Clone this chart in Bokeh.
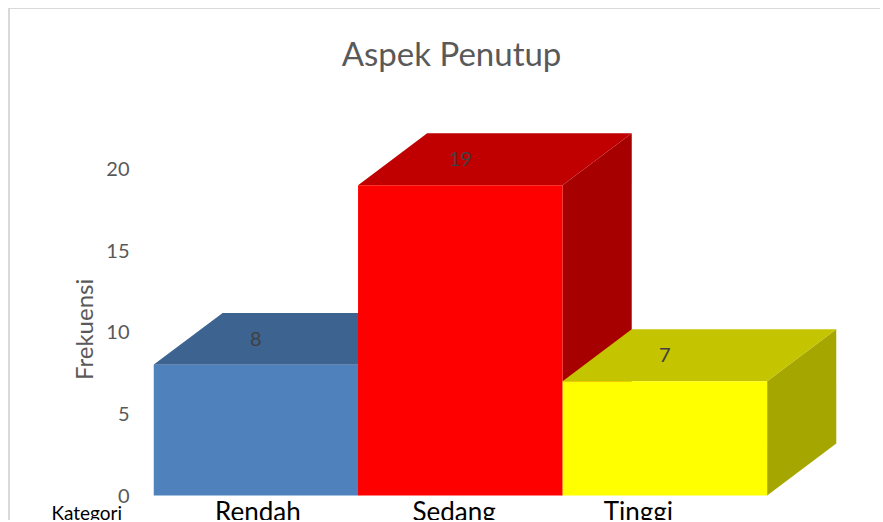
from bokeh.plotting import figure
from bokeh.models import Range1d, FixedTicker, Label, ColumnDataSource
from bokeh.core.properties import value
from bokeh.embed import file_html
from bokeh.resources import INLINE
import math

# ---- data ----
title_text = "Aspek Penutup"
categories = ["Rendah", "Sedang", "Tinggi"]
values = [8, 19, 7]
front_colors = ["#4f81bd", "#ff0000", "#ffff00"]
top_colors = ["#3d6391", "#c00000", "#c4c400"]
side_colors = ["#2f4d73", "#a60000", "#a6a600"]
y_ticks = [0, 5, 10, 15, 20]
y_label = "Frekuensi"
x_label = "Kategori"

# ---- layout constants ----
FONT = "Lato"
DX = 0.338   # depth offset in x units
DY = 3.18    # depth offset in y units
cat_label_x = [0.51, 1.47, 2.37]
cat_label_y = -0.92

p = figure(width=872, height=512, output_backend="svg", toolbar_location=None,
           x_range=Range1d(0, 3.52), y_range=Range1d(-1.59, 24),
           x_axis_location=None, title=None,
           min_border_left=143, min_border_right=9,
           min_border_top=94, min_border_bottom=0)
p.styles = {"margin-left": "8px", "margin-top": "8px",
            "border-left": "2px solid #d9d9d9", "border-top": "1px solid #d9d9d9"}
p.grid.visible = False
p.outline_line_color = None
p.background_fill_color = "white"
p.border_fill_color = "white"

x0 = [i for i in range(len(values))]
x1 = [i + 1 for i in range(len(values))]

side_src = ColumnDataSource(dict(
    xs=[[b, b + DX, b + DX, b] for b in x1],
    ys=[[0, DY, v + DY, v] for v in values],
    color=side_colors))
top_src = ColumnDataSource(dict(
    xs=[[a, a + DX, b + DX, b] for a, b in zip(x0, x1)],
    ys=[[v, v + DY, v + DY, v] for v in values],
    color=top_colors))
front_src = ColumnDataSource(dict(left=x0, right=x1, top=values,
                                  bottom=[0] * len(values), color=front_colors))

p.patches("xs", "ys", source=side_src, fill_color="color", line_color=None)
p.patches("xs", "ys", source=top_src, fill_color="color", line_color=None)
p.quad(left="left", right="right", top="top", bottom="bottom", source=front_src,
       fill_color="color", line_color=None)

# value labels on top faces
lab_src = ColumnDataSource(dict(x=[i + 0.5 for i in range(len(values))],
                                y=[v + DY / 2 for v in values],
                                t=[str(v) for v in values]))
p.text("x", "y", text="t", source=lab_src, text_align="center", text_baseline="middle",
       text_font=value(FONT), text_font_size="20px", text_color="#404040")

# category labels (inside the frame strip below zero)
cat_src = ColumnDataSource(dict(x=cat_label_x, y=[cat_label_y] * len(categories),
                                t=categories))
p.text("x", "y", text="t", source=cat_src, text_align="center",
       text_baseline="middle", text_font=value(FONT), text_font_size="26px",
       text_color="#000000")

# y axis
ax = p.yaxis[0]
ax.ticker = FixedTicker(ticks=y_ticks)
ax.axis_line_color = None
ax.major_tick_line_color = None
ax.minor_tick_line_color = None
ax.major_label_standoff = 18
ax.major_label_text_font = FONT
ax.major_label_text_font_size = "20px"
ax.major_label_text_color = "#595959"

# texts placed in side panels so they are not clipped to the frame
p.add_layout(Label(x=1.457, y=27.07, text=title_text, text_align="center",
                   text_baseline="middle", text_font=FONT, text_font_size="33px",
                   text_color="#595959"), "above")
p.add_layout(Label(x=-0.499, y=-1.01, text=x_label, text_align="left",
                   text_baseline="middle", text_font=FONT,
                   text_font_size="19px", text_color="#000000"), "above")
p.add_layout(Label(x=-0.342, y=10.17, text=y_label, text_align="center",
                   text_baseline="middle", angle=math.pi / 2, text_font=FONT,
                   text_font_size="24px", text_color="#595959"), "left")

open("out.html", "w").write(file_html(p, INLINE))
